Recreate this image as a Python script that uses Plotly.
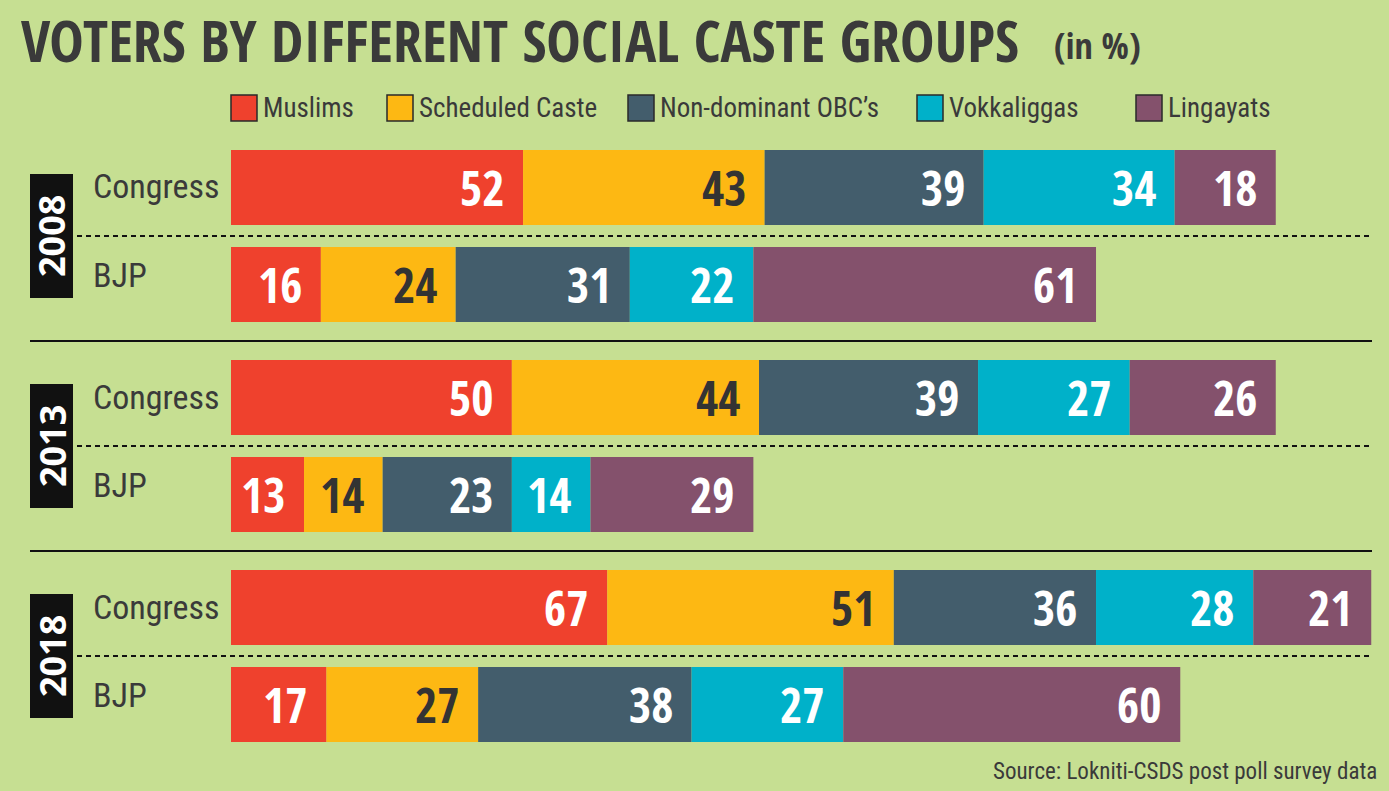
import plotly.graph_objects as go

W, H = 1389, 791

years = ["2008", "2013", "2018"]
parties = ["Congress", "BJP"]
groups = ["Muslims", "Scheduled Caste", "Non-dominant OBC’s", "Vokkaliggas", "Lingayats"]
colors = ["#EF412D", "#FDB813", "#435D6C", "#00B1C9", "#84516C"]
label_colors = ["white", "#333333", "white", "white", "white"]

# values per row: 2008 Congress, 2008 BJP, 2013 Congress, 2013 BJP, 2018 Congress, 2018 BJP
muslims = [52, 16, 50, 13, 67, 17]
scheduled_caste = [43, 24, 44, 14, 51, 27]
non_dominant_obc = [39, 31, 39, 23, 36, 38]
vokkaliggas = [34, 22, 27, 14, 28, 27]
lingayats = [18, 61, 26, 29, 21, 60]
series = [muslims, scheduled_caste, non_dominant_obc, vokkaliggas, lingayats]

title = "VOTERS BY DIFFERENT SOCIAL CASTE GROUPS"
subtitle = "(in %)"
source = "Source: Lokniti-CSDS post poll survey data"

BOLD = "Open Sans Condensed, Roboto Condensed, sans-serif"
REG = "Roboto Condensed, DejaVu Sans Condensed, sans-serif"
DARK = "#3a3a3a"

# layout geometry (pixels)
PLOT_L = 231
PLOT_W = W - PLOT_L
PX_PER_UNIT = 5.617
ROW0 = 187.5
GROUP_STEP = 210
PARTY_STEP = 97
BAR_H = 75
PARTY_LABEL_SHIFT = [-1, -10]

row_y = []
for gi in range(len(years)):
    for pi in range(len(parties)):
        row_y.append(ROW0 + gi * GROUP_STEP + pi * PARTY_STEP)

fig = go.Figure()
annotations = []
for si, (name, vals) in enumerate(zip(groups, series)):
    bases = [sum(series[k][r] for k in range(si)) for r in range(len(vals))]
    fig.add_trace(go.Bar(
        orientation="h", x=vals, y=row_y, base=bases, name=name,
        width=BAR_H, marker=dict(color=colors[si], line=dict(width=0)),
        showlegend=False, hoverinfo="x+name",
    ))
    for r, v in enumerate(vals):
        annotations.append(dict(
            x=bases[r] + v, y=row_y[r], xref="x", yref="y",
            text=f"<b>{v}</b>", showarrow=False, xanchor="right", yanchor="middle",
            xshift=-17, yshift=0,
            font=dict(family=BOLD, size=48, color=label_colors[si]),
        ))


def px(x):
    return (x - PLOT_L) / PLOT_W


def py(y):
    return 1 - y / H


shapes = []

# Title
annotations.append(dict(x=px(19), y=py(39), xref="paper", yref="paper", text=f"<b>{title}</b>",
                        showarrow=False, xanchor="left", yanchor="middle",
                        font=dict(family=BOLD, size=58, color=DARK)))
annotations.append(dict(x=px(1052), y=py(45), xref="paper", yref="paper", text=f"<b>{subtitle}</b>",
                        showarrow=False, xanchor="left", yanchor="middle",
                        font=dict(family=BOLD, size=36, color=DARK)))

# Legend
leg_x = [231, 387, 628, 917, 1136]
for i, name in enumerate(groups):
    shapes.append(dict(type="rect", xref="paper", yref="paper",
                       x0=px(leg_x[i]), x1=px(leg_x[i] + 26), y0=py(95), y1=py(121),
                       fillcolor=colors[i], line=dict(color="#2a2a2a", width=1.5)))
    annotations.append(dict(x=px(leg_x[i] + 30), y=py(108), xref="paper", yref="paper", text=name,
                            showarrow=False, xanchor="left", yanchor="middle",
                            font=dict(family=REG, size=27, color=DARK)))

# Party labels, year boxes, separators
for gi, yr in enumerate(years):
    yc = row_y[gi * 2]
    yb = row_y[gi * 2 + 1]
    for pi, p in enumerate(parties):
        annotations.append(dict(x=px(91), y=py(row_y[gi * 2 + pi] + PARTY_LABEL_SHIFT[pi]),
                                xref="paper", yref="paper", text=p,
                                showarrow=False, xanchor="left", yanchor="middle",
                                font=dict(family=REG, size=34, color=DARK)))
    mid = (yc + yb) / 2
    shapes.append(dict(type="rect", xref="paper", yref="paper",
                       x0=px(30), x1=px(73), y0=py(mid - 62), y1=py(mid + 62),
                       fillcolor="#111111", line=dict(width=0)))
    annotations.append(dict(x=px(52), y=py(mid), xref="paper", yref="paper", text=f"<b>{yr}</b>",
                            showarrow=False, xanchor="center", yanchor="middle", textangle=-90,
                            font=dict(family="Open Sans, sans-serif", size=36, color="white")))
    shapes.append(dict(type="line", xref="paper", yref="paper",
                       x0=px(77), x1=px(1372), y0=py(mid), y1=py(mid),
                       line=dict(color="#111111", width=2, dash="5px,4px")))
    if gi < len(years) - 1:
        ys = yb + (row_y[gi * 2 + 2] - yb) / 2
        shapes.append(dict(type="line", xref="paper", yref="paper",
                           x0=px(30), x1=px(1372), y0=py(ys), y1=py(ys),
                           line=dict(color="#111111", width=2)))

annotations.append(dict(x=px(1379), y=py(771), xref="paper", yref="paper", text=source,
                        showarrow=False, xanchor="right", yanchor="middle",
                        font=dict(family=REG, size=23, color=DARK)))

fig.update_layout(
    width=W, height=H,
    margin=dict(l=PLOT_L, r=0, t=0, b=0, pad=0),
    paper_bgcolor="#C6DF92", plot_bgcolor="rgba(0,0,0,0)",
    barmode="overlay",
    xaxis=dict(range=[0, PLOT_W / PX_PER_UNIT], visible=False, fixedrange=True),
    yaxis=dict(range=[H, 0], visible=False, fixedrange=True),
    shapes=shapes, annotations=annotations,
    showlegend=False,
)

fig.write_html("out.html")
